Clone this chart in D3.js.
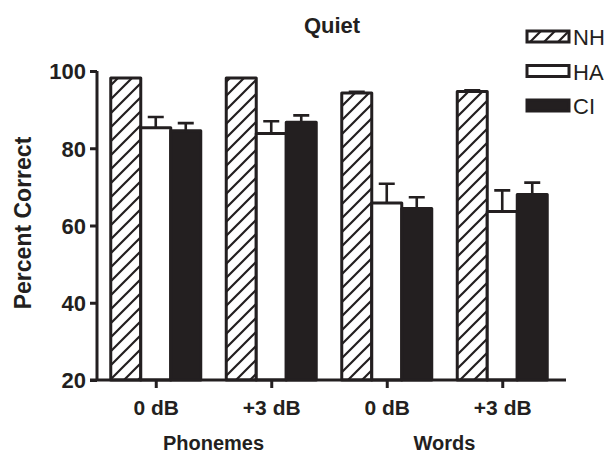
<!DOCTYPE html>
<html>
<head>
<meta charset="utf-8">
<script src="https://cdn.jsdelivr.net/npm/d3@7"></script>
<style>
body { margin: 0; background: #fff; }
text { font-family: "Liberation Sans", Arial, sans-serif; fill: #231f20; }
</style>
</head>
<body>
<div id="chart"></div>
<script>
// data
var conditions = ["0 dB", "+3 dB", "0 dB ", "+3 dB "];
var groups = ["NH", "HA", "CI"];
var nhMean = [98.2, 98.2, 94.3, 94.7];
var nhErr = [0, 0, 0.3, 0.3];
var haMean = [85.3, 83.8, 65.8, 63.6];
var haErr = [2.8, 3.2, 5.0, 5.5];
var ciMean = [84.5, 86.7, 64.4, 68.0];
var ciErr = [2.0, 1.8, 2.9, 3.1];
var yTicks = [20, 40, 60, 80, 100];
var materials = ["Phonemes", "Words"];

var w = 613;
var h = 454;
var ink = "#231f20";

var svg = d3.select("div#chart")
.append("svg")
.attr("width", w)
.attr("height", h);

var defs = svg.append("defs");
defs.append("pattern")
    .attr("id", "hatch")
    .attr("patternUnits", "userSpaceOnUse")
    .attr("width", 14)
    .attr("height", 14)
    .append("path")
        .attr("d", "M-3,3 l6,-6 M0,14 l14,-14 M11,17 l6,-6")
        .attr("stroke", ink)
        .attr("stroke-width", 2.2);

var series = [
    {name: "NH", mean: nhMean, err: nhErr, fill: "url(#hatch)"},
    {name: "HA", mean: haMean, err: haErr, fill: "#fff"},
    {name: "CI", mean: ciMean, err: ciErr, fill: ink}
];

var y = d3.scaleLinear().domain([20, 100]).range([380, 71]);
var x = d3.scalePoint().domain(conditions).range([98, 560]).padding(0.5);
var xs = d3.scaleBand().domain(groups).range([-45, 45]);

// bars
series.forEach(function(s){
    var g = svg.append("g");
    g.selectAll("rect")
        .data(s.mean)
        .enter()
        .append("rect")
            .attr("x", function(d, i){ return x(conditions[i]) + xs(s.name); })
            .attr("y", function(d){ return y(d); })
            .attr("width", xs.bandwidth())
            .attr("height", function(d){ return y(20) - y(d); })
            .attr("fill", s.fill)
            .attr("stroke", ink)
            .attr("stroke-width", 3)
            .attr("stroke-linejoin", "round");

    // error bars (upper only)
    g.selectAll("path.err")
        .data(s.mean)
        .enter()
        .append("path")
            .attr("class", "err")
            .attr("d", function(d, i){
                var cx = x(conditions[i]) + xs(s.name) + xs.bandwidth()/2;
                var top = y(d + s.err[i]);
                return "M" + cx + "," + y(d) + "V" + top + "M" + (cx - 8) + "," + top + "H" + (cx + 8);
            })
            .attr("stroke", ink)
            .attr("stroke-width", 2.6)
            .attr("fill", "none")
            .style("display", function(d, i){ return s.err[i] > 0 ? null : "none"; });
});

// y axis
var yAxis = svg.append("g")
    .attr("transform", "translate(97,0)")
    .call(d3.axisLeft(y).tickValues(yTicks).tickSize(7).tickPadding(4));
yAxis.select(".domain").attr("stroke", ink).attr("stroke-width", 3).attr("d", "M0,380V71");
yAxis.selectAll(".tick line").attr("stroke", ink).attr("stroke-width", 3);
yAxis.selectAll(".tick text")
    .style("font-size", "22px")
    .style("font-weight", "bold")
    .attr("dy", "0.36em");

// x axis
var xAxis = svg.append("g")
    .attr("transform", "translate(0,380)")
    .call(d3.axisBottom(x).tickSize(8).tickPadding(12).tickFormat(function(d){ return d.trim(); }));
xAxis.select(".domain").attr("stroke", ink).attr("stroke-width", 3).attr("d", "M90,0H566");
xAxis.selectAll(".tick line").attr("stroke", ink).attr("stroke-width", 3);
xAxis.selectAll(".tick text")
    .style("font-size", "21px")
    .style("font-weight", "bold");

// group labels under the ticks
svg.selectAll("text.material")
    .data(materials)
    .enter()
    .append("text")
        .attr("class", "material")
        .attr("x", function(d, i){ return (x(conditions[2*i]) + x(conditions[2*i+1])) / 2; })
        .attr("y", 450)
        .attr("text-anchor", "middle")
        .style("font-size", "20px")
        .style("font-weight", "bold")
        .text(function(d){ return d; });

// title
svg.append("text")
    .attr("x", 332)
    .attr("y", 33)
    .attr("text-anchor", "middle")
    .style("font-size", "22px")
    .style("font-weight", "bold")
    .text("Quiet");

// y axis label
svg.append("text")
    .attr("transform", "translate(31,223) rotate(-90)")
    .attr("text-anchor", "middle")
    .style("font-size", "23px")
    .style("font-weight", "bold")
    .text("Percent Correct");

// legend
var legend = svg.selectAll("g.legend")
    .data(series)
    .enter()
    .append("g")
        .attr("class", "legend")
        .attr("transform", function(d, i){ return "translate(527," + (31 + i*34.5) + ")"; });

legend.append("rect")
    .attr("width", 42)
    .attr("height", 11)
    .attr("fill", function(d){ return d.fill; })
    .attr("stroke", ink)
    .attr("stroke-width", 3);

legend.append("text")
    .attr("x", 46)
    .attr("y", 14)
    .style("font-size", "22px")
    .text(function(d){ return d.name; });
</script>
</body>
</html>
